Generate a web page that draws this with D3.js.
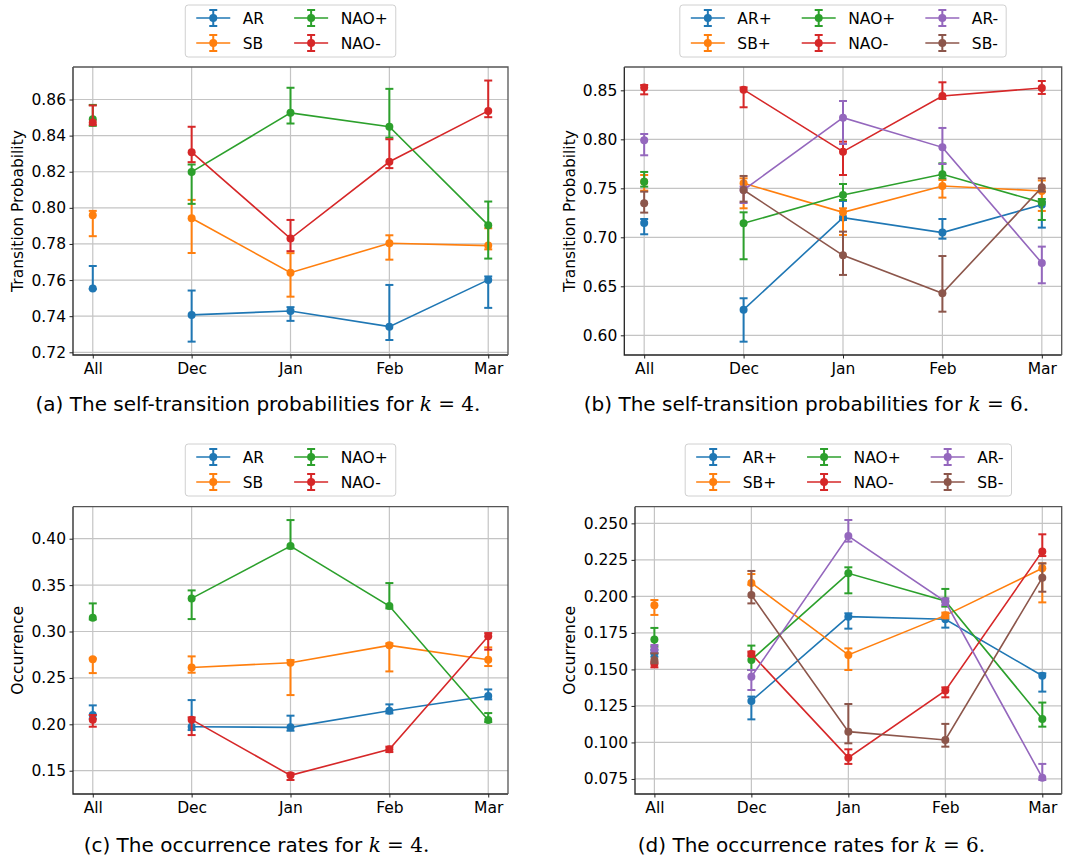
<!DOCTYPE html>
<html>
<head>
<meta charset="utf-8">
<script src="https://cdn.jsdelivr.net/npm/d3@7"></script>
<style>
  body { margin: 0; background: #fff; }
  text { font-family: "DejaVu Sans", sans-serif; fill: #000; }
</style>
</head>
<body>
<svg id="fig" width="1078" height="859"></svg>
<script>
////////////////////////////////////////////////////////////////////////
// Data: each point is [value, lower, upper], points in the order of months

const months = ["All", "Dec", "Jan", "Feb", "Mar"];

const names4 = ["AR", "SB", "NAO+", "NAO-"];
const names6 = ["AR+", "SB+", "NAO+", "NAO-", "AR-", "SB-"];
const colors6 = ["#1f77b4", "#ff7f0e", "#2ca02c", "#d62728", "#9467bd", "#8c564b"];

// (a) self-transition probabilities, k = 4
const selfK4_AR   = [[0.7553, 0.7550, 0.7678], [0.7407, 0.7259, 0.7542], [0.7429, 0.7374, 0.7450], [0.7342, 0.7268, 0.7573], [0.7601, 0.7446, 0.7620]];
const selfK4_SB   = [[0.7959, 0.7843, 0.7983], [0.7942, 0.7750, 0.8044], [0.7641, 0.7508, 0.7749], [0.7804, 0.7713, 0.7848], [0.7791, 0.7770, 0.7887]];
const selfK4_NAOp = [[0.8491, 0.8454, 0.8570], [0.8199, 0.8022, 0.8240], [0.8526, 0.8467, 0.8665], [0.8449, 0.8389, 0.8659], [0.7904, 0.7719, 0.8035]];
const selfK4_NAOm = [[0.8473, 0.8460, 0.8567], [0.8308, 0.8253, 0.8449], [0.7830, 0.7760, 0.7933], [0.8255, 0.8220, 0.8380], [0.8537, 0.8502, 0.8705]];

// (b) self-transition probabilities, k = 6
const selfK6_ARp  = [[0.7146, 0.7031, 0.7187], [0.6262, 0.5935, 0.6378], [0.7201, 0.7177, 0.7371], [0.7048, 0.6986, 0.7187], [0.7333, 0.7099, 0.7364]];
const selfK6_SBp  = [[0.7568, 0.7476, 0.7636], [0.7551, 0.7296, 0.7602], [0.7255, 0.7024, 0.7296], [0.7524, 0.7405, 0.7585], [0.7473, 0.7269, 0.7580]];
const selfK6_NAOp = [[0.7568, 0.7517, 0.7667], [0.7143, 0.6776, 0.7255], [0.7432, 0.7381, 0.7544], [0.7643, 0.7602, 0.7755], [0.7354, 0.7177, 0.7391]];
const selfK6_NAOm = [[0.8530, 0.8459, 0.8554], [0.8507, 0.8327, 0.8530], [0.7874, 0.7636, 0.7976], [0.8442, 0.8412, 0.8582], [0.8524, 0.8463, 0.8595]];
const selfK6_ARm  = [[0.7990, 0.7837, 0.8054], [0.7483, 0.7350, 0.7517], [0.8221, 0.7952, 0.8391], [0.7918, 0.7748, 0.8116], [0.6738, 0.6531, 0.6905]];
const selfK6_SBm  = [[0.7347, 0.7252, 0.7466], [0.7483, 0.7364, 0.7626], [0.6816, 0.6616, 0.7058], [0.6429, 0.6241, 0.6809], [0.7510, 0.7466, 0.7602]];

// (c) occurrence rates, k = 4
const occK4_AR   = [[0.2100, 0.2060, 0.2204], [0.1974, 0.1938, 0.2261], [0.1967, 0.1931, 0.2093], [0.2147, 0.2118, 0.2215], [0.2305, 0.2269, 0.2376]];
const occK4_SB   = [[0.2700, 0.2552, 0.2710], [0.2613, 0.2556, 0.2732], [0.2664, 0.2315, 0.2692], [0.2851, 0.2570, 0.2872], [0.2696, 0.2628, 0.2829]];
const occK4_NAOp = [[0.3149, 0.3130, 0.3303], [0.3357, 0.3134, 0.3443], [0.3921, 0.3896, 0.4201], [0.3274, 0.3249, 0.3522], [0.2046, 0.2024, 0.2121]];
const occK4_NAOm = [[0.2050, 0.1974, 0.2100], [0.2050, 0.1884, 0.2075], [0.1450, 0.1400, 0.1472], [0.1730, 0.1701, 0.1759], [0.2948, 0.2804, 0.2983]];

// (d) occurrence rates, k = 6
const occK6_ARp  = [[0.1610, 0.1587, 0.1633], [0.1284, 0.1158, 0.1314], [0.1861, 0.1779, 0.1884], [0.1843, 0.1786, 0.1861], [0.1457, 0.1348, 0.1473]];
const occK6_SBp  = [[0.1939, 0.1873, 0.1975], [0.2092, 0.2080, 0.2153], [0.1599, 0.1496, 0.1644], [0.1870, 0.1850, 0.1889], [0.2192, 0.1959, 0.2226]];
const occK6_NAOp = [[0.1704, 0.1656, 0.1784], [0.1565, 0.1496, 0.1663], [0.2158, 0.2021, 0.2199], [0.1968, 0.1930, 0.2051], [0.1161, 0.1108, 0.1273]];
const occK6_NAOm = [[0.1537, 0.1514, 0.1553], [0.1606, 0.1590, 0.1622], [0.0896, 0.0853, 0.0953], [0.1355, 0.1309, 0.1377], [0.2308, 0.2276, 0.2425]];
const occK6_ARm  = [[0.1640, 0.1615, 0.1667], [0.1450, 0.1359, 0.1496], [0.2413, 0.2375, 0.2523], [0.1964, 0.1941, 0.1987], [0.0759, 0.0743, 0.0853]];
const occK6_SBm  = [[0.1565, 0.1542, 0.1610], [0.2009, 0.1952, 0.2174], [0.1074, 0.0994, 0.1263], [0.1017, 0.0971, 0.1127], [0.2128, 0.2032, 0.2226]];

const ticksA = [0.72, 0.74, 0.76, 0.78, 0.80, 0.82, 0.84, 0.86];
const ticksB = [0.60, 0.65, 0.70, 0.75, 0.80, 0.85];
const ticksC = [0.15, 0.20, 0.25, 0.30, 0.35, 0.40];
const ticksD = [0.075, 0.100, 0.125, 0.150, 0.175, 0.200, 0.225, 0.250];

////////////////////////////////////////////////////////////////////////
// Panel layout

const panels = [
  { left: 73, top: 67, right: 508, bottom: 355, ymin: 0.7185, ymax: 0.878,
    ticks: ticksA, fmt: ".2f", ylabel: "Transition Probability", labelX: 22.5,
    legendTop: 5, capX: 258, capY: 411, tag: "(a)", capText: "The self-transition probabilities for", kval: "4",
    names: names4, series: [selfK4_AR, selfK4_SB, selfK4_NAOp, selfK4_NAOm] },
  { left: 624.3, top: 67, right: 1061.7, bottom: 355, ymin: 0.5799, ymax: 0.8738,
    ticks: ticksB, fmt: ".2f", ylabel: "Transition Probability", labelX: 575,
    legendTop: 5, capX: 806.5, capY: 411, tag: "(b)", capText: "The self-transition probabilities for", kval: "6",
    names: names6, series: [selfK6_ARp, selfK6_SBp, selfK6_NAOp, selfK6_NAOm, selfK6_ARm, selfK6_SBm] },
  { left: 73, top: 506.7, right: 508, bottom: 794, ymin: 0.1249, ymax: 0.4345,
    ticks: ticksC, fmt: ".2f", ylabel: "Occurrence", labelX: 22.5,
    legendTop: 444, capX: 256.5, capY: 852, tag: "(c)", capText: "The occurrence rates for", kval: "4",
    names: names4, series: [occK4_AR, occK4_SB, occK4_NAOp, occK4_NAOm] },
  { left: 635, top: 506.7, right: 1061.7, bottom: 794, ymin: 0.0647, ymax: 0.2614,
    ticks: ticksD, fmt: ".3f", ylabel: "Occurrence", labelX: 574.5,
    legendTop: 444, capX: 811.5, capY: 852, tag: "(d)", capText: "The occurrence rates for", kval: "6",
    names: names6, series: [occK6_ARp, occK6_SBp, occK6_NAOp, occK6_NAOm, occK6_ARm, occK6_SBm] }
];

const svg = d3.select("#fig");
const fontSize = 15.5;
const capHalf = 4;

function drawErrorbar(g, x, y, d, color) {
  g.append("line")
    .attr("x1", x).attr("x2", x)
    .attr("y1", y(d[1])).attr("y2", y(d[2]))
    .attr("stroke", color).attr("stroke-width", 2);
  [d[1], d[2]].forEach(function(v) {
    g.append("line")
      .attr("x1", x - capHalf).attr("x2", x + capHalf)
      .attr("y1", y(v)).attr("y2", y(v))
      .attr("stroke", color).attr("stroke-width", 2);
  });
}

function drawPanel(p) {
  const g = svg.append("g");
  const x = d3.scalePoint().domain(months).range([p.left, p.right]).padding(0.2);
  const y = d3.scaleLinear().domain([p.ymin, p.ymax]).range([p.bottom, p.top]);

  // grid
  g.append("g").selectAll("line").data(p.ticks).enter().append("line")
    .attr("x1", p.left).attr("x2", p.right)
    .attr("y1", d => y(d)).attr("y2", d => y(d))
    .attr("stroke", "#c4c4c4").attr("stroke-width", 1.2);
  g.append("g").selectAll("line").data(months).enter().append("line")
    .attr("x1", d => x(d)).attr("x2", d => x(d))
    .attr("y1", p.top).attr("y2", p.bottom)
    .attr("stroke", "#c4c4c4").attr("stroke-width", 1.2);

  // series
  p.series.forEach(function(s, i) {
    const color = colors6[i];
    const sg = g.append("g");
    s.forEach(function(d, j) { drawErrorbar(sg, x(months[j]), y, d, color); });
    sg.append("path")
      .datum(s.slice(1))
      .attr("d", d3.line().x((d, j) => x(months[j + 1])).y(d => y(d[0])))
      .attr("fill", "none").attr("stroke", color).attr("stroke-width", 1.6);
    sg.selectAll("circle").data(s).enter().append("circle")
      .attr("cx", (d, j) => x(months[j])).attr("cy", d => y(d[0]))
      .attr("r", 4).attr("fill", color);
  });

  // frame: left/bottom darker, top/right a bit lighter as in the reference
  g.append("path")
    .attr("d", "M" + p.left + "," + p.top + "V" + p.bottom + "H" + p.right)
    .attr("fill", "none").attr("stroke", "#222").attr("stroke-width", 1.3);
  g.append("path")
    .attr("d", "M" + p.left + "," + p.top + "H" + p.right + "V" + p.bottom)
    .attr("fill", "none").attr("stroke", "#555").attr("stroke-width", 1.3);

  // axes
  const ax = g.append("g").attr("transform", "translate(0," + p.bottom + ")")
    .call(d3.axisBottom(x).tickSize(3.5).tickPadding(4));
  const ay = g.append("g").attr("transform", "translate(" + p.left + ",0)")
    .call(d3.axisLeft(y).tickValues(p.ticks).tickFormat(d3.format(p.fmt)).tickSize(3.5).tickPadding(3.5));
  [ax, ay].forEach(function(a) {
    a.select(".domain").remove();
    a.selectAll("line").attr("stroke", "#222");
    a.selectAll("text").attr("font-size", fontSize).attr("font-family", "DejaVu Sans").attr("fill", "#000");
  });

  // y label
  g.append("text")
    .attr("transform", "translate(" + p.labelX + "," + ((p.top + p.bottom) / 2) + ") rotate(-90)")
    .attr("text-anchor", "middle").attr("font-size", fontSize)
    .text(p.ylabel);

  drawLegend(p);

  // caption
  const cap = svg.append("text")
    .attr("x", p.capX).attr("y", p.capY)
    .attr("text-anchor", "middle")
    .style("font-family", "'DejaVu Sans', sans-serif").attr("font-size", 20);
  cap.append("tspan").text(p.tag + " " + p.capText + " ");
  cap.append("tspan").style("font-family", "'DejaVu Serif', serif").style("font-style", "italic").text("k");
  cap.append("tspan").style("font-family", "'DejaVu Serif', serif").text(" = " + p.kval + ".");
}

function drawLegend(p) {
  const handleLen = 34, textGap = 12.5, colSpace = 30, padL = 11, padR = 8, rowH = 25;
  const ncol = p.names.length / 2;
  const lg = svg.append("g");

  // measure labels
  const widths = p.names.map(function(n) {
    const t = lg.append("text").attr("font-size", fontSize).text(n);
    const w = t.node().getComputedTextLength();
    t.remove();
    return w;
  });
  const colW = d3.range(ncol).map(c => Math.max(widths[2 * c], widths[2 * c + 1]));
  const total = padL + padR + d3.sum(colW) + ncol * (handleLen + textGap) + (ncol - 1) * colSpace;
  const cx = (p.left + p.right) / 2;
  const x0 = cx - total / 2;

  lg.append("rect")
    .attr("x", x0).attr("y", p.legendTop)
    .attr("width", total).attr("height", 52)
    .attr("rx", 3).attr("fill", "#fff").attr("fill-opacity", 0.8)
    .attr("stroke", "#d0d0d0").attr("stroke-width", 1);

  let cxPos = x0 + padL;
  for (let c = 0; c < ncol; c++) {
    for (let r = 0; r < 2; r++) {
      const idx = 2 * c + r;
      const color = colors6[idx];
      const yy = p.legendTop + 13 + r * rowH;
      const hx = cxPos + handleLen / 2;
      lg.append("line").attr("x1", cxPos).attr("x2", cxPos + handleLen)
        .attr("y1", yy).attr("y2", yy).attr("stroke", color).attr("stroke-width", 1.6);
      lg.append("line").attr("x1", hx).attr("x2", hx)
        .attr("y1", yy - 8).attr("y2", yy + 8).attr("stroke", color).attr("stroke-width", 2);
      [yy - 8, yy + 8].forEach(function(v) {
        lg.append("line").attr("x1", hx - capHalf).attr("x2", hx + capHalf)
          .attr("y1", v).attr("y2", v).attr("stroke", color).attr("stroke-width", 2);
      });
      lg.append("circle").attr("cx", hx).attr("cy", yy).attr("r", 4).attr("fill", color);
      lg.append("text").attr("x", cxPos + handleLen + textGap).attr("y", yy)
        .attr("dy", "0.36em").attr("font-size", fontSize).text(p.names[idx]);
    }
    cxPos += handleLen + textGap + colW[c] + colSpace;
  }
}

panels.forEach(drawPanel);
</script>
</body>
</html>
